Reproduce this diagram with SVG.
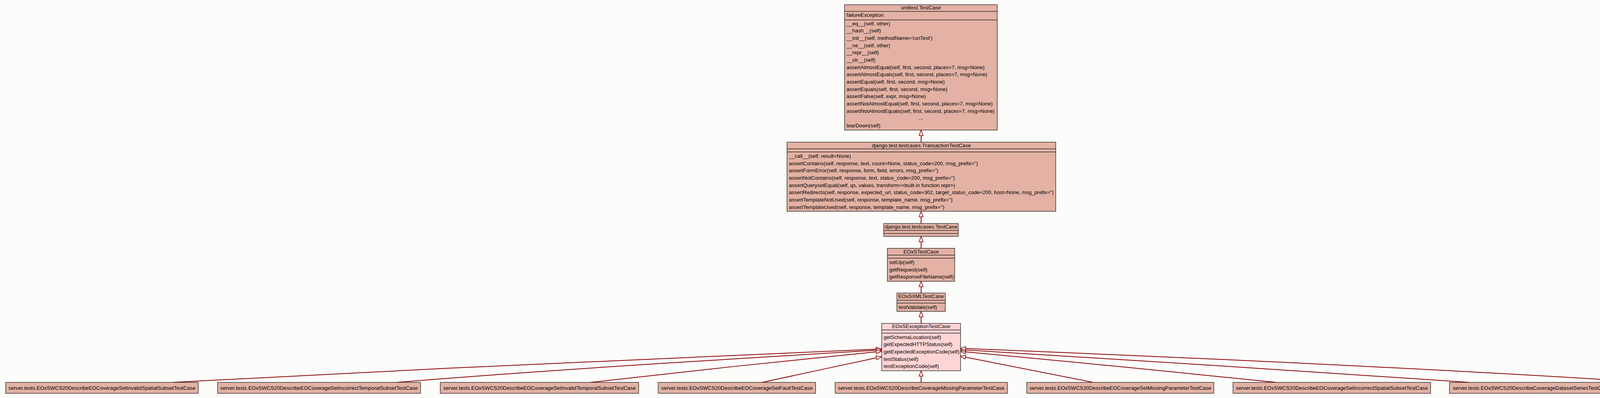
<svg xmlns="http://www.w3.org/2000/svg" width="4557" height="1019" viewBox="0 0 4557 1019">
<defs>
<style>
text{font-family:"Liberation Sans",Arial,Helvetica,sans-serif;font-size:13.33px;fill:#000}
.c{text-anchor:middle}
.box{fill:#E3B2A4;stroke:#2a2a2a;stroke-width:1.4}
.exc{fill:#FFD4D4;stroke:#2a2a2a;stroke-width:1.4}
.sep{stroke:#2a2a2a;stroke-width:1.4}
.e{fill:none;stroke:#8B0000;stroke-width:2}
</style>
<marker id="inh" markerUnits="userSpaceOnUse" markerWidth="16" markerHeight="12" refX="0" refY="0" orient="auto" overflow="visible">
<path d="M0,-5 L14,0 L0,5 Z" fill="#FCFDFB" stroke="#8B0000" stroke-width="1.6"/>
</marker>
</defs>
<rect width="4557" height="1019" fill="#FCFDFB"/>

<g id="connectors">
<path class="e" marker-end="url(#inh)" d="M2358,364 L2358,347"/>
<path class="e" marker-end="url(#inh)" d="M2358,572 L2358,555"/>
<path class="e" marker-end="url(#inh)" d="M2358,636 L2358,619"/>
<path class="e" marker-end="url(#inh)" d="M2358,750 L2358,734"/>
<path class="e" marker-end="url(#inh)" d="M2358,828 L2358,811"/>
<path class="e" marker-end="url(#inh)" d="M2358,979 L2358,963"/>
<path class="e" marker-end="url(#inh)" d="M442,979 C1042,946 1643,919 2243,893.9"/>
<path class="e" marker-end="url(#inh)" d="M1016,979 C1416,946.2 1843,920.8 2243,896.8"/>
<path class="e" marker-end="url(#inh)" d="M1512,979 C1762,950.2 1993,925.7 2243.1,900.7"/>
<path class="e" marker-end="url(#inh)" d="M1951,979 C2048,958 2146,937 2243.3,916.2"/>
<path class="e" marker-end="url(#inh)" d="M2798,979 C2689,957 2580,936 2471.7,914.4"/>
<path class="e" marker-end="url(#inh)" d="M3267,979 C3017,952.8 2722,924.4 2472,900.7"/>
<path class="e" marker-end="url(#inh)" d="M3762,979 C3362,950.6 2872,921.1 2472,895.9"/>
<path class="e" marker-end="url(#inh)" d="M4224,979 C3624,941.2 3072,916.9 2472,892.3"/>
</g>

<g id="unittest_TestCase">
<rect class="box" x="2162" y="12" width="391" height="321"/>
<line class="sep" x1="2162" y1="29.3" x2="2553" y2="29.3"/>
<line class="sep" x1="2162" y1="51" x2="2553" y2="51"/>
<text class="c" x="2357.5" y="24">unittest.TestCase</text>
<text x="2167" y="43.4">failureException</text>
<text x="2167" y="64.7">__eq__(self, other)</text>
<text x="2167" y="83.4">__hash__(self)</text>
<text x="2167" y="102">__init__(self, methodName='runTest')</text>
<text x="2167" y="120.7">__ne__(self, other)</text>
<text x="2167" y="139.4">__repr__(self)</text>
<text x="2167" y="158">__str__(self)</text>
<text x="2167" y="176.7">assertAlmostEqual(self, first, second, places=7, msg=None)</text>
<text x="2167" y="195.4">assertAlmostEquals(self, first, second, places=7, msg=None)</text>
<text x="2167" y="214">assertEqual(self, first, second, msg=None)</text>
<text x="2167" y="232.7">assertEquals(self, first, second, msg=None)</text>
<text x="2167" y="251.4">assertFalse(self, expr, msg=None)</text>
<text x="2167" y="270">assertNotAlmostEqual(self, first, second, places=7, msg=None)</text>
<text x="2167" y="288.7" textLength="379" lengthAdjust="spacingAndGlyphs">assertNotAlmostEquals(self, first, second, places=7, msg=None)</text>
<text class="c" x="2357.5" y="306">...</text>
<text x="2167" y="326">tearDown(self)</text>
</g>

<g id="TransactionTestCase">
<rect class="box" x="2014.7" y="364" width="688" height="177"/>
<line class="sep" x1="2014.7" y1="381.3" x2="2702.7" y2="381.3"/>
<line class="sep" x1="2014.7" y1="389" x2="2702.7" y2="389"/>
<text class="c" x="2358.5" y="377">django.test.testcases.TransactionTestCase</text>
<text x="2019.5" y="404">__call__(self, result=None)</text>
<text x="2019.5" y="422.7">assertContains(self, response, text, count=None, status_code=200, msg_prefix='')</text>
<text x="2019.5" y="441.3">assertFormError(self, response, form, field, errors, msg_prefix='')</text>
<text x="2019.5" y="460">assertNotContains(self, response, text, status_code=200, msg_prefix='')</text>
<text x="2019.5" y="478.7">assertQuerysetEqual(self, qs, values, transform=&lt;built-in function repr&gt;)</text>
<text x="2019.5" y="497.3" textLength="678" lengthAdjust="spacingAndGlyphs">assertRedirects(self, response, expected_url, status_code=302, target_status_code=200, host=None, msg_prefix='')</text>
<text x="2019.5" y="516">assertTemplateNotUsed(self, response, template_name, msg_prefix='')</text>
<text x="2019.5" y="534.7">assertTemplateUsed(self, response, template_name, msg_prefix='')</text>
</g>

<g id="django_TestCase">
<rect class="box" x="2262.3" y="572.3" width="191" height="33"/>
<line class="sep" x1="2262.3" y1="590" x2="2453.3" y2="590"/>
<line class="sep" x1="2262.3" y1="597.7" x2="2453.3" y2="597.7"/>
<text class="c" x="2357.8" y="585" textLength="186" lengthAdjust="spacingAndGlyphs">django.test.testcases.TestCase</text>
</g>

<g id="EOxSTestCase">
<rect class="box" x="2271.7" y="635.7" width="172.3" height="84.6"/>
<line class="sep" x1="2271.7" y1="653.3" x2="2444" y2="653.3"/>
<line class="sep" x1="2271.7" y1="661" x2="2444" y2="661"/>
<text class="c" x="2357.9" y="649">EOxSTestCase</text>
<text x="2276.5" y="676">setUp(self)</text>
<text x="2276.5" y="694.6">getRequest(self)</text>
<text x="2276.5" y="713.2">getResponseFileName(self)</text>
</g>

<g id="EOxSXMLTestCase">
<rect class="box" x="2296" y="750.3" width="124" height="47"/>
<line class="sep" x1="2296" y1="768.7" x2="2420" y2="768.7"/>
<line class="sep" x1="2296" y1="776" x2="2420" y2="776"/>
<text class="c" x="2358" y="762.5">EOxSXMLTestCase</text>
<text x="2300.5" y="791">testValidate(self)</text>
</g>

<g id="EOxSExceptionTestCase">
<rect class="exc" x="2257.3" y="828" width="201.7" height="121.3"/>
<line class="sep" x1="2257.3" y1="844.7" x2="2459" y2="844.7"/>
<line class="sep" x1="2257.3" y1="852.7" x2="2459" y2="852.7"/>
<text class="c" x="2358.2" y="840">EOxSExceptionTestCase</text>
<text x="2262" y="867.5">getSchemaLocation(self)</text>
<text x="2262" y="886.2">getExpectedHTTPStatus(self)</text>
<text x="2262" y="904.8">getExpectedExceptionCode(self)</text>
<text x="2262" y="923.5">testStatus(self)</text>
<text x="2262" y="942.2">testExceptionCode(self)</text>
</g>

<g id="InvalidSpatialSubset">
<rect class="box" x="14.7" y="979" width="492.8" height="28"/>
<text class="c" x="261.1" y="997.5">server.tests.EOxSWCS20DescribeEOCoverageSetInvalidSpatialSubsetTestCase</text>
</g>
<g id="IncorrectTemporalSubset">
<rect class="box" x="557" y="979" width="519.6" height="28"/>
<text class="c" x="816.8" y="997.5">server.tests.EOxSWCS20DescribeEOCoverageSetIncorrectTemporalSubsetTestCase</text>
</g>
<g id="InvalidTemporalSubset">
<rect class="box" x="1127" y="979" width="508" height="28"/>
<text class="c" x="1381" y="997.5">server.tests.EOxSWCS20DescribeEOCoverageSetInvalidTemporalSubsetTestCase</text>
</g>
<g id="EOCoverageSetFault">
<rect class="box" x="1685" y="979" width="403" height="28"/>
<text class="c" x="1886.5" y="997.5">server.tests.EOxSWCS20DescribeEOCoverageSetFaultTestCase</text>
</g>
<g id="CoverageMissingParameter">
<rect class="box" x="2138" y="979" width="441" height="28"/>
<text class="c" x="2358.5" y="997.5">server.tests.EOxSWCS20DescribeCoverageMissingParameterTestCase</text>
</g>
<g id="EOCoverageSetMissingParameter">
<rect class="box" x="2628.5" y="979" width="478.9" height="28"/>
<text class="c" x="2868" y="997.5">server.tests.EOxSWCS20DescribeEOCoverageSetMissingParameterTestCase</text>
</g>
<g id="IncorrectSpatialSubset">
<rect class="box" x="3156.5" y="979" width="505.9" height="28"/>
<text class="c" x="3409.5" y="997.5">server.tests.EOxSWCS20DescribeEOCoverageSetIncorrectSpatialSubsetTestCase</text>
</g>
<g id="CoverageDatasetSeries">
<rect class="box" x="3710.6" y="979" width="418.7" height="28"/>
<text class="c" x="3920" y="997.5">server.tests.EOxSWCS20DescribeCoverageDatasetSeriesTestCase</text>
</g>
<g id="CoverageFault">
<rect class="box" x="4177.5" y="979" width="364.8" height="28"/>
<text class="c" x="4359.9" y="997.5">server.tests.EOxSWCS20DescribeCoverageFaultTestCase</text>
</g>
</svg>
